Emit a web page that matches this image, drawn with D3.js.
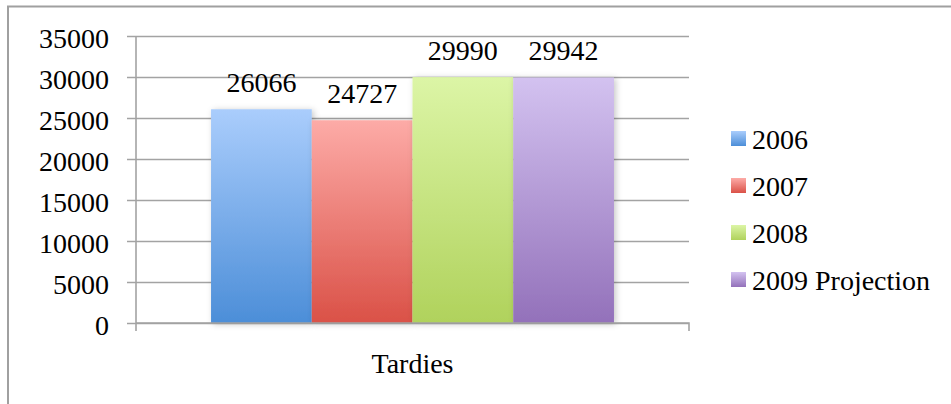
<!DOCTYPE html>
<html>
<head>
<meta charset="utf-8">
<script src="https://cdn.jsdelivr.net/npm/d3@7"></script>
<style>
  html, body { margin: 0; padding: 0; background: #fff; }
  svg { display: block; font-family: "Liberation Serif", "DejaVu Serif", serif; }
</style>
</head>
<body>
<svg id="chart" width="951" height="404"></svg>
<script>
// Tardy counts per school year
const categories = ["Tardies"];
const seriesNames = ["2006", "2007", "2008", "2009 Projection"];
const seriesValues = [26066, 24727, 29990, 29942];
const yTicks = [0, 5000, 10000, 15000, 20000, 25000, 30000, 35000];
// gradient stops (top, bottom) for each series
const seriesTop = ["#aacdfc", "#fdaba7", "#dcf5a6", "#d3c2f0"];
const seriesBottom = ["#4c8ed8", "#da5147", "#b0d25c", "#9371ba"];

const svg = d3.select("#chart");
const W = 951, H = 404;
const plot = { left: 136, right: 689, top: 36, bottom: 323 };

// outer frame (only top and left edges fall inside the canvas)
svg.append("rect")
  .attr("x", 8).attr("y", 6.5)
  .attr("width", W + 20).attr("height", H + 20)
  .attr("fill", "#fff").attr("stroke", "#a0a0a0").attr("stroke-width", 2);

const defs = svg.append("defs");
seriesNames.forEach((s, i) => {
  const g = defs.append("linearGradient")
    .attr("id", "grad" + i).attr("x1", 0).attr("y1", 0).attr("x2", 0).attr("y2", 1);
  g.append("stop").attr("offset", "0%").attr("stop-color", seriesTop[i]);
  g.append("stop").attr("offset", "100%").attr("stop-color", seriesBottom[i]);
});
const shadow = defs.append("filter").attr("id", "shadow")
  .attr("x", "-20%").attr("y", "-10%").attr("width", "140%").attr("height", "120%");
shadow.append("feDropShadow")
  .attr("dx", 2).attr("dy", 1).attr("stdDeviation", 3)
  .attr("flood-color", "#000").attr("flood-opacity", 0.22);

const y = d3.scaleLinear().domain([0, 35000]).range([plot.bottom, plot.top]);
const x0 = d3.scaleBand().domain(categories)
  .range([plot.left, plot.right]).padding(0.157);
const x1 = d3.scaleBand().domain(seriesNames).range([0, x0.bandwidth()]).padding(0);

// horizontal gridlines with tick stubs to the left
const yAxis = d3.axisLeft(y).tickValues(yTicks)
  .tickSize(-(plot.right - plot.left)).tickSizeOuter(0).tickPadding(27)
  .tickFormat(d3.format("d"));
const gy = svg.append("g").attr("transform", `translate(${plot.left},0)`).call(yAxis);
gy.select(".domain").remove();
gy.selectAll(".tick line").attr("stroke", "#a3a3a3").attr("stroke-width", 1.6)
  .attr("x1", -9);
gy.selectAll(".tick text")
  .attr("font-size", 28).attr("fill", "#000")
  .attr("font-family", "Liberation Serif, serif")
  .attr("dy", "0.42em");

// vertical axis line
svg.append("line")
  .attr("x1", plot.left).attr("x2", plot.left)
  .attr("y1", plot.top).attr("y2", plot.bottom + 8)
  .attr("stroke", "#a3a3a3").attr("stroke-width", 1.6);

// bars
const gBars = svg.append("g");
categories.forEach(cat => {
  seriesNames.forEach((s, i) => {
    gBars.append("rect")
      .attr("x", x0(cat) + x1(s))
      .attr("y", y(seriesValues[i]))
      .attr("width", x1.bandwidth())
      .attr("height", y(0) - y(seriesValues[i]))
      .attr("fill", `url(#grad${i})`)
      .attr("filter", "url(#shadow)");
  });
});

// baseline and category boundary ticks
const xAxis = d3.axisBottom(x0).tickSize(0).tickFormat(d => d).tickPadding(30);
const gx = svg.append("g").attr("transform", `translate(0,${plot.bottom})`).call(xAxis);
gx.select(".domain").attr("stroke", "#a3a3a3").attr("stroke-width", 1.6)
  .attr("d", `M${plot.left},0H${plot.right}V8`);
gx.selectAll(".tick text")
  .attr("font-size", 28).attr("fill", "#000")
  .attr("font-family", "Liberation Serif, serif")
  .attr("dy", "0.71em");

// value labels
categories.forEach(cat => {
  seriesNames.forEach((s, i) => {
    svg.append("text")
      .attr("x", x0(cat) + x1(s) + x1.bandwidth() / 2)
      .attr("y", y(seriesValues[i]) - 17)
      .attr("text-anchor", "middle")
      .attr("font-size", 28).attr("fill", "#000")
      .text(seriesValues[i]);
  });
});

// legend
const legend = svg.append("g").attr("transform", "translate(731,131)");
seriesNames.forEach((s, i) => {
  const row = legend.append("g").attr("transform", `translate(0,${i * 47})`);
  row.append("rect").attr("width", 15).attr("height", 15).attr("fill", `url(#grad${i})`);
  row.append("text").attr("x", 21).attr("y", 18)
    .attr("font-size", 28).attr("fill", "#000").text(s);
});
</script>
</body>
</html>
